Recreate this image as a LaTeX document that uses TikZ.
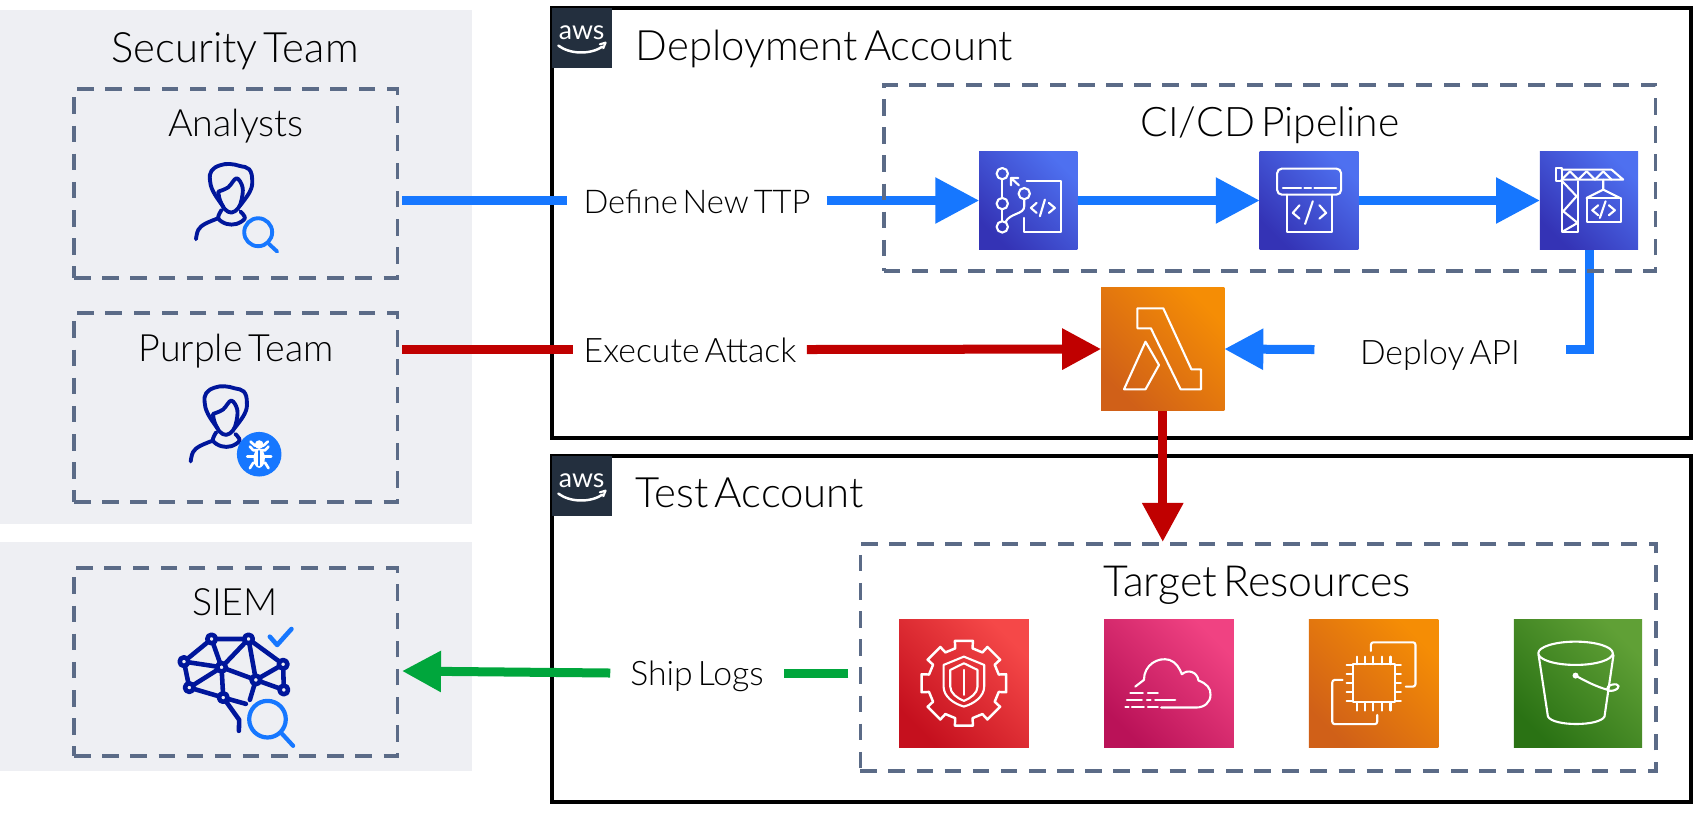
\documentclass[tikz,border=0pt]{standalone}
\usepackage{fontspec}
\setmainfont{Lato Light}[WordSpace=0.55]
\newfontfamily\logofont{Lato}
\usetikzlibrary{arrows.meta}
\definecolor{panelgrey}{HTML}{EEEFF3}
\definecolor{dashgrey}{HTML}{5B6B87}
\definecolor{awsnavy}{HTML}{232F3E}
\definecolor{flowblue}{HTML}{1677FF}
\definecolor{flowred}{HTML}{C00000}
\definecolor{flowgreen}{HTML}{00A63C}
\definecolor{userblue}{HTML}{00169B}
\definecolor{devlow}{HTML}{3433B5}
\definecolor{devhigh}{HTML}{4E70F0}
\definecolor{orangelow}{HTML}{D06018}
\definecolor{orangehigh}{HTML}{F58D05}
\definecolor{redlow}{HTML}{C5101E}
\definecolor{redhigh}{HTML}{F54848}
\definecolor{pinklow}{HTML}{BA1258}
\definecolor{pinkhigh}{HTML}{F04282}
\definecolor{greenlow}{HTML}{2A7214}
\definecolor{greenhigh}{HTML}{60A036}
\pgfdeclarelayer{panels}
\pgfdeclarelayer{wires}
\pgfsetlayers{panels,wires,main}
\tikzset{%
  panel/.style={rectangle, fill=panelgrey, outer sep=0},
  account/.style={rectangle, draw=black, line width=1.05pt, outer sep=0},
  dashbox/.style={rectangle, draw=dashgrey, line width=1pt,
    dash pattern=on 4.7pt off 3.3pt, outer sep=0},
  awsicon/.style={rectangle, inner sep=0, outer sep=0},
  devicon/.style={awsicon, left color=devlow, right color=devhigh, shading angle=135},
  orangeicon/.style={awsicon, left color=orangelow, right color=orangehigh, shading angle=135},
  redicon/.style={awsicon, left color=redlow, right color=redhigh, shading angle=135},
  pinkicon/.style={awsicon, left color=pinklow, right color=pinkhigh, shading angle=135},
  greenicon/.style={awsicon, left color=greenlow, right color=greenhigh, shading angle=135},
  bigtitle/.style={anchor=base, inner sep=0, font=\fontsize{11.9pt}{13pt}\selectfont},
  boxtitle/.style={anchor=base, inner sep=0, font=\fontsize{10.7pt}{12pt}\selectfont},
  wirelabel/.style={rectangle, inner xsep=0, inner ysep=0, text height=.25cm, text depth=0pt,
    font=\fontsize{9.6pt}{11pt}\selectfont},
  bluewire/.style={draw=flowblue, line width=2.56pt},
  redwire/.style={draw=flowred, line width=2.56pt},
  greenwire/.style={draw=flowgreen, line width=2.56pt},
  bluehead/.style={-{Triangle[length=12.5pt, width=12.5pt]}},
  smallhead/.style={-{Triangle[length=11.1pt, width=11.1pt]}},
  glyph/.style={x=.003333cm, y=-.003333cm, line cap=round, line join=round},
  whiteline/.style={draw=white, line width=.6pt},
  pics/awslogo/.style={code={
    \begin{scope}[glyph]
      \node (-text) [text=white, anchor=base, inner sep=0, font=\logofont\fontsize{7.6pt}{9pt}\selectfont] at (95,105) {aws};
      \draw[white, line width=.7pt] (25,122) .. controls (60,148) and (120,150) .. (158,125);
      \draw[white, line width=.6pt] (150,118) -- (167,113) -- (160,130);
    \end{scope}}},
  pics/person/.style={code={
    \begin{scope}[glyph]
      \draw[userblue, line width=1.1pt] plot[smooth, tension=.7] coordinates {(160,170) (130,125) (120,90) (125,62) (150,46) (180,42) (210,48) (238,58) (247,90) (240,125) (208,170)};
      \draw[userblue, line width=1.1pt] plot[smooth, tension=.6] coordinates {(145,125) (175,112) (200,85) (218,112) (215,150) (205,175) (185,188) (165,178) (150,150) (145,125)};
      \draw[userblue, line width=1.1pt] plot[smooth, tension=.6] coordinates {(155,180) (145,205) (170,222) (200,222) (225,205) (212,185)};
      \draw[userblue, line width=1.1pt] plot[smooth, tension=.6] coordinates {(145,205) (105,222) (85,240) (78,268)};
    \end{scope}}},
  pics/lens/.style={code={
    \begin{scope}[glyph]
      \draw[flowblue, line width=1.1pt] (265,247) circle (42);
      \draw[flowblue, line width=1.1pt] (297,282) -- (322,305);
    \end{scope}}},
  pics/bug/.style={code={
    \begin{scope}[glyph]
      \fill[flowblue] (268,238) circle (67);
      \fill[white] (268,250) ellipse (17 and 29);
      \fill[white] (268,209) circle (13);
      \draw[white, line width=.75pt] (242,200) -- (255,212) -- (281,212) -- (294,200);
      \draw[white, line width=.75pt] (240,215) -- (250,226) -- (286,226) -- (296,215);
      \draw[white, line width=.75pt] (232,245) -- (304,245);
      \draw[white, line width=.75pt] (240,280) -- (250,264) -- (286,264) -- (296,280);
      \draw[flowblue, line width=.4pt] (268,228) -- (268,272);
    \end{scope}}},
  pics/brain/.style={code={
    \begin{scope}[glyph]
      \coordinate (a) at (155,57);
      \coordinate (b) at (266,57);
      \coordinate (c) at (72,125);
      \coordinate (d) at (185,142);
      \coordinate (e) at (370,133);
      \coordinate (f) at (288,180);
      \coordinate (g) at (88,203);
      \coordinate (h) at (372,210);
      \coordinate (i) at (190,233);
      \draw[userblue, line width=1.3pt] (a) -- (b) -- (e) -- (h) -- (f) -- (e) (a) -- (c) -- (g) -- (i) -- (d) -- (a) (c) -- (d) -- (g) (d) -- (b) -- (f) -- (d)
        (i) -- (258,252) (f) -- (270,240) (i) -- (238,300) -- (237,333);
      \foreach \p in {a,b,c,d,e,f,g,h,i}
        \draw[userblue, fill=panelgrey, line width=1.3pt] (\p) circle (13);
      \draw[flowblue, line width=1.2pt] (323,298) circle (55);
      \draw[flowblue, line width=1.2pt] (365,340) -- (400,378);
      \draw[flowblue, line width=1.3pt] (330,50) -- (352,75) -- (395,27);
    \end{scope}}},
  pics/commitglyph/.style={code={
    \begin{scope}[glyph]
      \draw[whiteline] (82,77) circle (17) (82,167) circle (17) (82,237) circle (17) (148,137) circle (17);
      \draw[whiteline] (82,94) -- (82,150) (82,184) -- (82,220);
      \draw[whiteline] (148,154) -- (148,175) .. controls (148,200) and (105,195) .. (92,222);
      \draw[whiteline] (155,100) -- (258,100) -- (258,253) -- (148,253) -- (148,210);
      \draw[whiteline] (132,112) -- (108,90) (108,112) -- (108,90) -- (130,90);
      \draw[whiteline] (185,165) -- (168,180) -- (185,195) (210,155) -- (195,205) (222,165) -- (240,180) -- (222,195);
    \end{scope}}},
  pics/cbglyph/.style={code={
    \begin{scope}[glyph]
      \draw[whiteline, rounded corners=1.3pt] (908,62) rectangle (1100,140);
      \draw[whiteline] (925,120) -- (980,120) (990,120) -- (1010,120) (1020,120) -- (1085,120);
      \draw[whiteline] (937,140) -- (937,253) -- (1072,253) -- (1072,140);
      \draw[whiteline] (975,172) -- (955,195) -- (975,212) (1015,160) -- (992,228) (1035,172) -- (1055,195) -- (1035,212);
    \end{scope}}},
  pics/craneglyph/.style={code={
    \begin{scope}[glyph]
      \draw[whiteline] (62,60) rectangle (80,100);
      \draw[whiteline] (80,65) -- (230,65) -- (265,95) -- (80,95);
      \draw[whiteline] (80,95) -- (105,70) -- (130,95) -- (155,70) -- (180,95) -- (205,70) -- (230,95);
      \draw[whiteline] (82,100) -- (82,252) -- (130,252) -- (130,100);
      \draw[whiteline] (82,100) -- (125,145) -- (85,190) -- (128,225) -- (85,250);
      \draw[whiteline] (205,95) -- (205,125) (155,150) -- (205,125) -- (255,150);
      \draw[whiteline] (155,150) rectangle (258,222);
      \draw[whiteline] (190,172) -- (172,187) -- (190,202) (212,160) -- (195,210) (222,172) -- (240,187) -- (222,202);
    \end{scope}}},
  pics/wafglyph/.style={code={
    \begin{scope}[glyph, shift={(207,205)}]
      \draw[whiteline, line width=.7pt] (-14:108) \foreach \a in {0,45,...,315} { -- (\a-14:108) -- (\a-12:130) -- (\a+12:130) -- (\a+14:108) } -- cycle;
      \draw[whiteline] (0,-80) -- (61,-55) -- (61,10) .. controls (61,40) and (30,62) .. (0,70) .. controls (-30,62) and (-61,40) .. (-61,10) -- (-61,-55) -- cycle;
      \draw[whiteline] (0,-60) -- (41,-40) -- (41,10) .. controls (41,30) and (20,45) .. (0,53) .. controls (-20,45) and (-41,30) .. (-41,10) -- (-41,-40) -- cycle;
      \draw[whiteline] (0,-40) -- (0,35);
    \end{scope}}},
  pics/cloudglyph/.style={code={
    \begin{scope}[glyph]
      \draw[whiteline] (722,215) -- (748,195) .. controls (748,150) and (790,125) .. (825,135) .. controls (845,142) and (855,160) .. (862,178) .. controls (880,162) and (908,170) .. (912,197) .. controls (935,205) and (950,220) .. (948,240) .. controls (948,262) and (930,278) .. (905,278) -- (800,278);
      \draw[whiteline] (707,235) -- (745,235) (760,235) -- (790,235);
      \draw[whiteline] (697,255) -- (742,255) (757,255) -- (768,255) (782,255) -- (842,255);
      \draw[whiteline] (692,276) -- (702,276) (712,276) -- (748,276) (760,276) -- (790,276);
    \end{scope}}},
  pics/chipglyph/.style={code={
    \begin{scope}[glyph]
      \draw[whiteline] (158,148) rectangle (285,262);
      \foreach \k in {172,196,220,246,272}
        \draw[whiteline] (\k,125) -- (\k,148) (\k,262) -- (\k,287);
      \foreach \k in {150,178,205,230,258}
        \draw[whiteline] (140,\k) -- (158,\k) (285,\k) -- (303,\k);
      \draw[whiteline, rounded corners=.7pt] (213,108) -- (213,82) -- (347,82) -- (347,215) -- (318,215);
      \draw[whiteline, rounded corners=.7pt] (128,195) -- (97,195) -- (97,328) -- (232,328) -- (232,300);
    \end{scope}}},
  pics/bucketglyph/.style={code={
    \begin{scope}[glyph]
      \draw[whiteline] (828,115) ellipse (112 and 35);
      \draw[whiteline] (717,120) -- (745,305) .. controls (760,335) and (900,335) .. (915,305) -- (942,120);
      \fill[white] (828,182) circle (9);
      \draw[whiteline] (828,182) .. controls (860,200) and (890,215) .. (925,225);
      \draw[whiteline, rotate around={15:(940,218)}] (940,218) ellipse (18 and 9);
    \end{scope}}}
}
\begin{document}
\begin{tikzpicture}[x=.01cm, y=-.01cm]
  \useasboundingbox (0,0) rectangle (1693,817);
  \begin{pgfonlayer}{panels}
    \node (secpanel) [panel, minimum width=4.72cm, minimum height=5.14cm] at (236,267) {};
    \node (siempanel) [panel, minimum width=4.72cm, minimum height=2.29cm] at (236,656.5) {};
    \node (depacct) [account, minimum width=11.38cm, minimum height=4.30cm] at (1121.6,222.8) {};
    \node (testacct) [account, minimum width=11.38cm, minimum height=3.46cm] at (1121.6,629) {};
  \end{pgfonlayer}
  \node (depaws) [rectangle, fill=awsnavy, minimum size=.6cm, outer sep=0] at (582,38) {};
  \node (testaws) [rectangle, fill=awsnavy, minimum size=.6cm, outer sep=0] at (582,486) {};
  \pic (depawslogo) at (550,5) {awslogo};
  \pic (testawslogo) at (550,453) {awslogo};

  \node (analysts) [dashbox, minimum width=3.23cm, minimum height=1.89cm] at (235.75,183.5) {};
  \node (purple) [dashbox, minimum width=3.23cm, minimum height=1.89cm] at (235.75,407.5) {};
  \node (siem) [dashbox, minimum width=3.23cm, minimum height=1.88cm] at (235.75,662) {};
  \node (pipeline) [dashbox, minimum width=7.715cm, minimum height=1.86cm] at (1269.75,178) {};
  \node (target) [dashbox, minimum width=7.95cm, minimum height=2.267cm] at (1258,657.35) {};

  \node (sectitle) [bigtitle] at (235,62) {Security Team};
  \node (analyststitle) [boxtitle] at (236,136.5) {Analysts};
  \node (purpletitle) [boxtitle] at (236,361) {Purple Team};
  \node (siemtitle) [boxtitle] at (235,615) {SIEM};
  \node (deptitle) [bigtitle, anchor=base west] at (635,60) {Deployment Account};
  \node (testtitle) [bigtitle, anchor=base west] at (635,507) {Test Account};
  \node (pipetitle) [bigtitle, font=\fontsize{11.6pt}{13pt}\selectfont] at (1270,136.5) {CI/CD Pipeline};
  \node (targettitle) [bigtitle, font=\fontsize{12.2pt}{13pt}\selectfont] at (1257,596) {Target Resources};

  \node (cc) [devicon, minimum width=.98cm, minimum height=.98cm] at (1028.25,200.5) {};
  \node (cb) [devicon, minimum width=.985cm, minimum height=.98cm] at (1309,200.5) {};
  \node (cbuild) [devicon, minimum width=.98cm, minimum height=.98cm] at (1589,200.5) {};
  \node (lambda) [orangeicon, minimum size=1.23cm] at (1162.75,349) {};
  \node (waf) [redicon, minimum width=1.295cm, minimum height=1.28cm] at (964,683.3) {};
  \node (cwatch) [pinkicon, minimum width=1.295cm, minimum height=1.28cm] at (1169,683.3) {};
  \node (ec2) [orangeicon, minimum width=1.295cm, minimum height=1.28cm] at (1373.7,683.3) {};
  \node (s3) [greenicon, minimum width=1.28cm, minimum height=1.28cm] at (1578,683.3) {};

  \node (define) [wirelabel, minimum width=2.583cm, font=\fontsize{9.3pt}{11pt}\selectfont] at (697,200.5) {Define New TTP};
  \node (execute) [wirelabel, minimum width=2.32cm] at (690,349.5) {Execute Attack};
  \node (deploy) [wirelabel, minimum width=2.495cm, text height=.30cm] at (1440,349.5) {Deploy API};
  \node (ship) [wirelabel, minimum width=1.72cm] at (697,673) {Ship Logs};
  \coordinate (siemin) at (402,671);

  \begin{pgfonlayer}{wires}
    \draw[bluewire, shorten <=.05cm] (analysts.east |- define) -- (define.west);
    \draw[bluewire, bluehead] (define.east) -- (cc.west);
    \draw[bluewire, bluehead] (cc.east) -- (cb.west);
    \draw[bluewire, bluehead] (cb.east) -- (cbuild.west);
    \draw[bluewire] (cbuild.south) |- (deploy.east);
    \draw[bluewire, smallhead] (deploy.west) -- (lambda.east);
    \draw[redwire, shorten <=.05cm] (purple.east |- execute) -- (execute.west);
    \draw[redwire, smallhead] (execute.east) -- (lambda.west);
    \draw[redwire, smallhead, shorten >=.02cm] (lambda.south) -- (target.north -| lambda.south);
    \draw[greenwire, shorten <=.12cm] (target.west |- ship) -- (ship.east);
    \draw[greenwire, smallhead] (ship.west) -- (siemin);
  \end{pgfonlayer}

  \pic at (170,150) {person};
  \pic at (170,150) {lens};
  \pic at (164.7,372.3) {person};
  \pic at (170,375) {bug};
  \pic at (160,620) {brain};
  \pic at (975,148) {commitglyph};
  \pic at (975,148) {cbglyph};
  \pic at (1535,148) {craneglyph};
  \pic at (895,615) {wafglyph};
  \pic at (895,615) {cloudglyph};
  \pic at (1300,615) {chipglyph};
  \pic at (1300,615) {bucketglyph};
  \draw[whiteline, line join=round] (1137.4,308.3) -- (1163.3,308.3) -- (1191.4,369.3) -- (1201,369.3) -- (1201,389.3) -- (1180.6,389.3) -- (1150.9,328.3) -- (1137.4,328.3) -- cycle;
  \draw[whiteline, line join=round] (1145.5,341.7) -- (1159,365) -- (1145.5,389.3) -- (1124,389.3) -- cycle;
\end{tikzpicture}
\end{document}
